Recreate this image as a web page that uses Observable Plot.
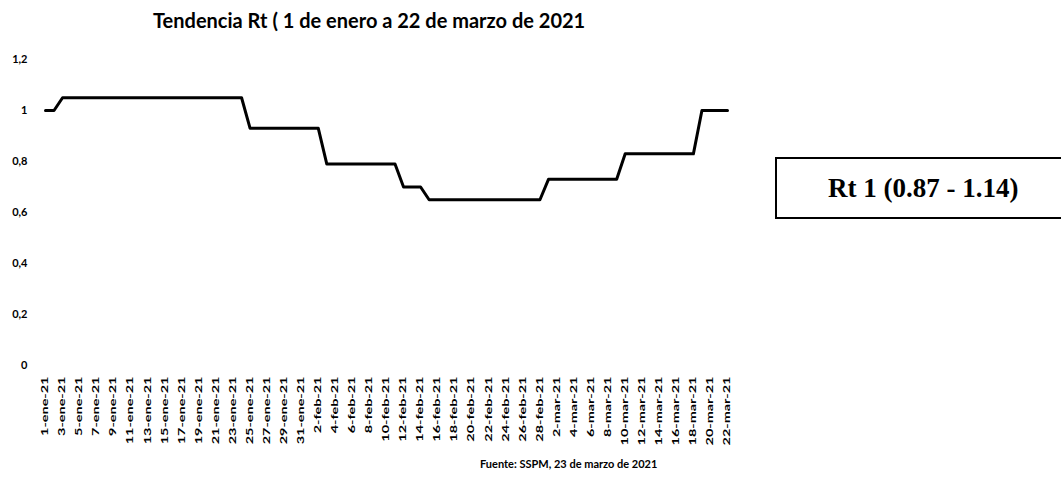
<!DOCTYPE html>
<html>
<head>
<meta charset="utf-8">
<script src="https://cdn.jsdelivr.net/npm/d3@7"></script>
<script src="https://cdn.jsdelivr.net/npm/@observablehq/plot@0.6"></script>
<style>
  html, body { margin: 0; padding: 0; background: #fff; overflow: hidden; }
  #wrap { position: relative; width: 1061px; height: 489px; }
  #title { position: absolute; left: 153px; top: 8px; font-family: Lato, sans-serif; font-weight: 700; font-size: 20px; color: #000; white-space: nowrap; }
  #caption { position: absolute; left: 480px; top: 457px; font-family: Lato, sans-serif; font-weight: 700; font-size: 11px; color: #000; white-space: nowrap; }
  #box { position: absolute; left: 775px; top: 157px; width: 320px; height: 58px; border: 2px solid #000; font-family: "Liberation Serif", serif; font-weight: 700; font-size: 27px; line-height: 58px; padding-left: 51px; box-sizing: content-box; white-space: nowrap; }
  #chart { position: absolute; left: 0; top: 0; }
</style>
</head>
<body>
<div id="wrap">
  <div id="chart"></div>
  <div id="title">Tendencia Rt ( 1 de enero a 22 de marzo de 2021</div>
  <div id="box">Rt 1 (0.87 - 1.14)</div>
  <div id="caption">Fuente: SSPM, 23 de marzo de 2021</div>
</div>
<script>
const days = [
  "1-ene-21","2-ene-21","3-ene-21","4-ene-21","5-ene-21","6-ene-21","7-ene-21","8-ene-21","9-ene-21","10-ene-21",
  "11-ene-21","12-ene-21","13-ene-21","14-ene-21","15-ene-21","16-ene-21","17-ene-21","18-ene-21","19-ene-21","20-ene-21",
  "21-ene-21","22-ene-21","23-ene-21","24-ene-21","25-ene-21","26-ene-21","27-ene-21","28-ene-21","29-ene-21","30-ene-21","31-ene-21",
  "1-feb-21","2-feb-21","3-feb-21","4-feb-21","5-feb-21","6-feb-21","7-feb-21","8-feb-21","9-feb-21","10-feb-21",
  "11-feb-21","12-feb-21","13-feb-21","14-feb-21","15-feb-21","16-feb-21","17-feb-21","18-feb-21","19-feb-21","20-feb-21",
  "21-feb-21","22-feb-21","23-feb-21","24-feb-21","25-feb-21","26-feb-21","27-feb-21","28-feb-21",
  "1-mar-21","2-mar-21","3-mar-21","4-mar-21","5-mar-21","6-mar-21","7-mar-21","8-mar-21","9-mar-21","10-mar-21",
  "11-mar-21","12-mar-21","13-mar-21","14-mar-21","15-mar-21","16-mar-21","17-mar-21","18-mar-21","19-mar-21","20-mar-21",
  "21-mar-21","22-mar-21"
];

const rt = [
  1.00, 1.00,
  1.05, 1.05, 1.05, 1.05, 1.05, 1.05, 1.05, 1.05, 1.05, 1.05, 1.05,
  1.05, 1.05, 1.05, 1.05, 1.05, 1.05, 1.05, 1.05, 1.05, 1.05, 1.05,
  0.93, 0.93, 0.93, 0.93, 0.93, 0.93, 0.93, 0.93, 0.93,
  0.79, 0.79, 0.79, 0.79, 0.79, 0.79, 0.79, 0.79, 0.79,
  0.70, 0.70, 0.70,
  0.65, 0.65, 0.65, 0.65, 0.65, 0.65, 0.65, 0.65, 0.65, 0.65, 0.65, 0.65, 0.65, 0.65,
  0.73, 0.73, 0.73, 0.73, 0.73, 0.73, 0.73, 0.73, 0.73,
  0.83, 0.83, 0.83, 0.83, 0.83, 0.83, 0.83, 0.83, 0.83,
  1.00, 1.00, 1.00, 1.00
];

const xTickLabels = [
  "1-ene-21","3-ene-21","5-ene-21","7-ene-21","9-ene-21","11-ene-21","13-ene-21","15-ene-21","17-ene-21","19-ene-21",
  "21-ene-21","23-ene-21","25-ene-21","27-ene-21","29-ene-21","31-ene-21","2-feb-21","4-feb-21","6-feb-21","8-feb-21",
  "10-feb-21","12-feb-21","14-feb-21","16-feb-21","18-feb-21","20-feb-21","22-feb-21","24-feb-21","26-feb-21","28-feb-21",
  "2-mar-21","4-mar-21","6-mar-21","8-mar-21","10-mar-21","12-mar-21","14-mar-21","16-mar-21","18-mar-21","20-mar-21","22-mar-21"
];

const yTicks = [0, 0.2, 0.4, 0.6, 0.8, 1, 1.2];

const data = days.map((d, i) => ({day: d, rt: rt[i]}));

const chart = Plot.plot({
  width: 1061,
  height: 489,
  marginLeft: 45,
  marginRight: 334,
  marginTop: 59,
  marginBottom: 124,
  style: {fontFamily: "Lato, sans-serif", fontWeight: "700", color: "#000", background: "transparent"},
  x: {type: "point", domain: days, padding: 0},
  y: {domain: [0, 1.2]},
  marks: [
    Plot.axisY({ticks: yTicks, tickSize: 0, tickPadding: 18, label: null, fontSize: 11,
      tickFormat: d => String(d).replace(".", ",")}),
    Plot.axisX({ticks: xTickLabels, tickSize: 0, tickPadding: 11, tickRotate: -90, label: null, fontSize: 8.5}),
    Plot.line(data, {x: "day", y: "rt", stroke: "#000", strokeWidth: 3})
  ]
});
document.getElementById("chart").appendChild(chart);

// stretch rotated x tick labels along their length, as in the scanned original
d3.select(chart).selectAll('g[aria-label="x-axis tick label"] text').each(function() {
  const t = this.getAttribute("transform") || "";
  this.setAttribute("transform", t + " scale(1.7,1)");
});
</script>
</body>
</html>
